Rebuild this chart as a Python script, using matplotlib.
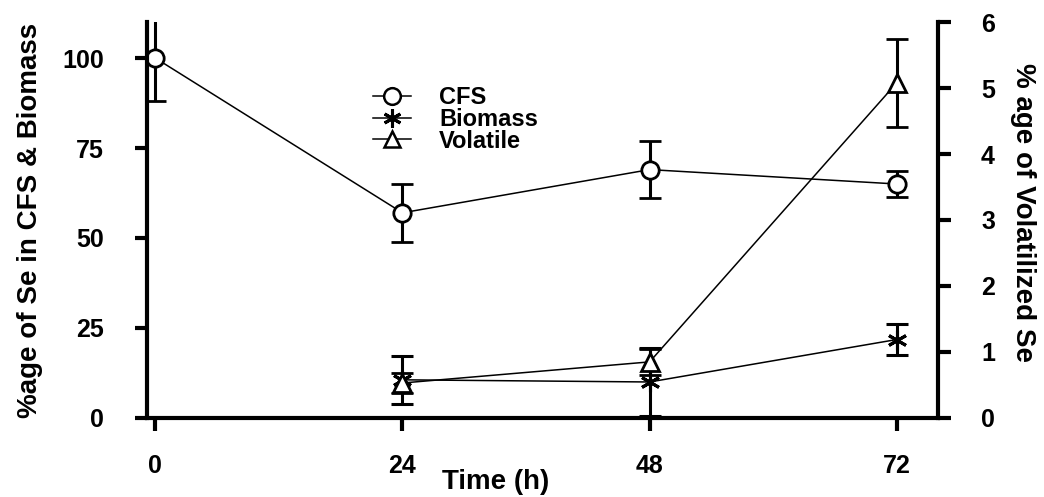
import matplotlib
matplotlib.use("Agg")
import matplotlib.pyplot as plt
from matplotlib.lines import Line2D

plt.rcParams["font.family"] = ["Liberation Sans", "DejaVu Sans"]
plt.rcParams["font.weight"] = "bold"

# sampling times (h)
time_h = [0, 24, 48, 72]

# % Se remaining in cell-free supernatant
cfs = [100, 57, 69, 65]
cfs_err = [12, 8, 8, 3.5]

# % Se in biomass (no reading at t=0)
bio_time = [24, 48, 72]
biomass = [10.6, 10, 21.8]
biomass_err = [6.7, 9.5, 4.2]

# % Se volatilized (right axis)
vol_time = [24, 48, 72]
volatile = [0.53, 0.85, 5.08]
volatile_err = [0.15, 0.2, 0.67]

fig = plt.figure(figsize=(10.44, 4.97), dpi=100)
ax = fig.add_axes([0.1408, 0.159, 0.7577, 0.7967])
ax2 = ax.twinx()

err_kw = dict(color="black", ecolor="black", elinewidth=2.2, capsize=8, capthick=2.2,
              linewidth=1.1, markerfacecolor="white", markeredgecolor="black")

ax.errorbar(time_h, cfs, yerr=cfs_err, marker="o", markersize=12.5, markeredgewidth=2,
            label="CFS", **err_kw)
ax.errorbar(bio_time, biomass, yerr=biomass_err, marker=(6, 2, 0), markersize=14,
            markeredgewidth=2.2, label="Biomass", **err_kw)
ax2.errorbar(vol_time, volatile, yerr=volatile_err, marker="^", markersize=13,
             markeredgewidth=2, label="Volatile", **err_kw)

ax.set_xlim(-0.8, 76)
ax.set_ylim(0, 110)
ax2.set_ylim(0, 6)

ax.set_xticks(time_h)
ax.set_yticks([0, 25, 50, 75, 100])
ax2.set_yticks(range(0, 7))

for a in (ax, ax2):
    a.spines["top"].set_visible(False)
    for s in a.spines.values():
        s.set_linewidth(3)
    a.tick_params(width=3, length=9, labelsize=18, direction="out")
ax.tick_params(axis="x", pad=17)
ax.tick_params(axis="y", pad=22)
ax2.tick_params(axis="y", pad=22)
ax.spines["right"].set_visible(False)
ax2.spines["left"].set_visible(False)
ax2.spines["bottom"].set_visible(False)

ax.set_xlabel("Time (h)", fontsize=20, fontweight="bold")
ax.xaxis.set_label_coords(0.441, -0.13)
ax.set_ylabel("%age of Se in CFS & Biomass", fontsize=20, fontweight="bold")
ax.yaxis.set_label_coords(-0.131, 0.5)
ax2.set_ylabel("% age of Volatilized Se", fontsize=20, fontweight="bold", rotation=270)
ax2.yaxis.set_label_coords(1.124, 0.52)

handles = [
    Line2D([], [], color="black", lw=1.1, marker="o", markersize=12, markeredgewidth=1.8,
           markerfacecolor="white"),
    Line2D([], [], color="black", lw=1.1, marker=(6, 2, 0), markersize=13, markeredgewidth=2.2),
    Line2D([], [], color="black", lw=1.1, marker="^", markersize=12, markeredgewidth=1.8,
           markerfacecolor="white"),
]
fig.legend(handles, ["CFS", "Biomass", "Volatile"], loc="upper left",
           bbox_to_anchor=(373 / 1044, 1 - 86 / 497), frameon=False, fontsize=17,
           handlelength=1.6, labelspacing=-0.05, handletextpad=1.2,
           borderpad=0, borderaxespad=0)

fig.savefig("out.png", dpi=100)
